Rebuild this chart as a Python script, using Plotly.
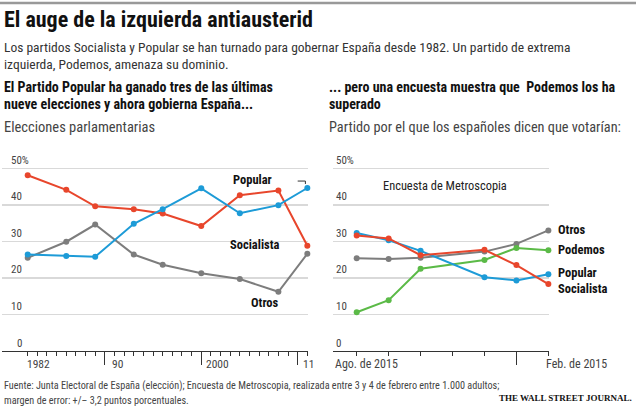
import plotly.graph_objects as go

W, H = 640, 408
FONT = "Liberation Sans Narrow, Roboto Condensed, Roboto, Arial, sans-serif"

# ---------------- data ----------------
# Left chart: parliamentary elections (% of vote)
election_years = [1982, 1986, 1989, 1993, 1996, 2000, 2004, 2008, 2011]
socialista_elec = [48.1, 44.1, 39.6, 38.8, 37.6, 34.2, 42.6, 43.9, 28.8]
popular_elec = [26.4, 26.0, 25.8, 34.8, 38.8, 44.5, 37.7, 39.9, 44.6]
otros_elec = [25.5, 29.9, 34.6, 26.4, 23.6, 21.3, 19.7, 16.2, 26.6]

# Right chart: Metroscopia poll (% who say they would vote)
months = ["Ago", "Sep", "Oct", "Nov", "Dic", "Ene", "Feb"]
survey_months = ["Ago", "Sep", "Oct", "Dic", "Ene", "Feb"]
otros_poll = [25.4, 25.2, 25.5, 27.2, 29.3, 33.0]
podemos_poll = [10.6, 13.9, 22.5, 24.9, 28.2, 27.6]
popular_poll = [32.3, 30.3, 27.4, 20.2, 19.3, 21.0]
socialista_poll = [31.6, 30.8, 26.2, 27.7, 23.5, 18.3]

y_ticks = [0, 10, 20, 30, 40, 50]
left_x_labels = ["1982", "90", "2000", "11"]
left_x_label_pos = [1982, 1990, 2000, 2010]
right_x_labels = ["Ago. de 2015", "Feb. de 2015"]
right_x_label_pos = ["Ago", "Feb"]

RED = "#e8462c"
BLUE = "#1d9bd7"
GRAY = "#7d7d7d"
GREEN = "#5bba47"


def px(x):
    return x / W


def py(y):
    return 1 - y / H


survey_idx = [months.index(m) for m in survey_months]

fig = go.Figure()


def add_line(x, y, color, xa, ya):
    fig.add_trace(go.Scatter(
        x=x, y=y, mode="lines+markers", xaxis=xa, yaxis=ya,
        line=dict(color=color, width=2),
        marker=dict(color=color, size=6),
        cliponaxis=False, showlegend=False, hoverinfo="skip"))


add_line(election_years, otros_elec, GRAY, "x", "y")
add_line(election_years, socialista_elec, RED, "x", "y")
add_line(election_years, popular_elec, BLUE, "x", "y")

add_line(survey_idx, otros_poll, GRAY, "x2", "y2")
add_line(survey_idx, podemos_poll, GREEN, "x2", "y2")
add_line(survey_idx, popular_poll, BLUE, "x2", "y2")
add_line(survey_idx, socialista_poll, RED, "x2", "y2")

y_dom = [py(351), py(150)]
yax = dict(range=[0, 55], tickvals=y_ticks, showticklabels=False,
           showgrid=True, gridcolor="#d9d9d9", gridwidth=1.5,
           zeroline=False, ticks="", showline=False, fixedrange=True)

fig.update_layout(
    width=W, height=H,
    margin=dict(l=0, r=0, t=0, b=0),
    paper_bgcolor="white", plot_bgcolor="white",
    font=dict(family=FONT, color="#222"),
    xaxis=dict(domain=[px(2), px(308)], range=[1979.334, 2011.07],
               anchor="y", showline=True, linecolor="#333", linewidth=1,
               tickvals=[1990, 2000, 2010], ticks="outside", ticklen=13,
               tickcolor="#333", tickwidth=1, showticklabels=False,
               showgrid=False, zeroline=False, fixedrange=True,
               minor=dict(tickvals=list(range(1982, 2012)), ticks="outside",
                          ticklen=4, tickcolor="#333", tickwidth=1,
                          showgrid=False)),
    yaxis=dict(domain=y_dom, anchor="x", **yax),
    xaxis2=dict(domain=[px(333), px(549)], range=[-0.742, 6.02],
                anchor="y2", showline=True, linecolor="#333", linewidth=1,
                tickvals=[5], ticks="outside", ticklen=13,
                tickcolor="#333", tickwidth=1, showticklabels=False,
                showgrid=False, zeroline=False, fixedrange=True,
                minor=dict(tickvals=list(range(len(months))), ticks="outside",
                           ticklen=4, tickcolor="#333", tickwidth=1,
                           showgrid=False)),
    yaxis2=dict(domain=y_dom, anchor="x2", **yax),
)

ann = []


def text(x, y, s, size, color="#222", bold=False, xanchor="left",
         yanchor="middle", family=FONT, xref="paper", yref="paper",
         xshift=0, yshift=0):
    if bold:
        s = "<b>" + s + "</b>"
    ann.append(dict(x=x, y=y, xref=xref, yref=yref, text=s, showarrow=False,
                    xanchor=xanchor, yanchor=yanchor, xshift=xshift,
                    yshift=yshift,
                    font=dict(size=size, color=color, family=family)))


# headings
text(px(2), py(19), "El auge de la izquierda antiausterid", 22, "#111", True)
text(px(2), py(47), "Los partidos Socialista y Popular se han turnado para "
     "gobernar España desde 1982. Un partido de extrema", 13.5, "#333")
text(px(2), py(64), "izquierda, Podemos, amenaza su dominio.", 13.5, "#333")
text(px(2), py(87), "El Partido Popular ha ganado tres de las últimas",
     14, "#111", True)
text(px(2), py(104), "nueve elecciones y ahora gobierna España...",
     14, "#111", True)
text(px(2), py(127), "Elecciones parlamentarias", 14.5, "#444")
text(px(327), py(87), "... pero una encuesta muestra que  Podemos los ha",
     14, "#111", True)
text(px(327), py(104), "superado", 14, "#111", True)
text(px(327), py(127), "Partido por el que los españoles dicen que votarían:",
     14.3, "#444")

# y tick labels
for v in y_ticks:
    lab = str(v) + ("%" if v == y_ticks[-1] else "")
    text(px(24), v, lab, 11, "#444", xanchor="right", yref="y", yshift=8,
         xshift=7 if v == y_ticks[-1] else 0)
    text(px(334), v, lab, 11, "#444", xanchor="left", yref="y2", yshift=8)

# x tick labels
for lab, pos, sh in zip(left_x_labels, left_x_label_pos, [-3, 5, 3, 3]):
    text(pos, py(364), lab, 11.5, "#444", xref="x", xshift=sh)
for lab, pos, sh in zip(right_x_labels, right_x_label_pos, [-24, -4]):
    text(months.index(pos), py(364), lab, 12, "#444", xref="x2", xshift=sh)

# series labels left
text(px(252), py(179), "Popular", 12.5, "#111", True, xanchor="center")
text(px(255), py(244), "Socialista", 12.5, "#111", True, xanchor="center")
text(px(265), py(302), "Otros", 12.5, "#111", True, xanchor="center")
# series labels right
text(px(445), py(186), "Encuesta de Metroscopia", 12.4, "#222",
     xanchor="center")
text(px(556), py(229), "Otros", 12.5, "#111", True)
text(px(556), py(249), "Podemos", 12.5, "#111", True)
text(px(556), py(272), "Popular", 12.5, "#111", True)
text(px(556), py(288), "Socialista", 12.5, "#111", True)

# footer
text(px(2), py(386), "Fuente: Junta Electoral de España (elección); Encuesta "
     "de Metroscopia, realizada entre 3 y 4 de febrero entre 1.000 adultos;",
     10.2, "#444")
text(px(2), py(400), "margen de error: +/– 3,2 puntos porcentuales.",
     10.2, "#444")
text(px(634), py(398), "THE WALL STREET JOURNAL.", 9, "#111", True,
     xanchor="right", family="Liberation Serif, DejaVu Serif, serif")

fig.update_layout(annotations=ann)

# top rule and leader for "Popular"
fig.add_shape(type="line", xref="paper", yref="paper", x0=0, x1=px(636),
              y0=py(3), y1=py(3), line=dict(color="#999", width=2.5))
last_pop = popular_elec[-1]
fig.add_shape(type="path", xref="x", yref="y",
              path=f"M 2010.0,{last_pop + 1.9} L 2010.8,{last_pop + 1.9} "
                   f"L 2010.8,{last_pop + 1.1}",
              line=dict(color="#333", width=1))

fig.write_html("out.html",
               config={"displayModeBar": False, "staticPlot": True},
               post_script="document.body.style.margin='0';"
                           "document.body.style.overflow='hidden';")
